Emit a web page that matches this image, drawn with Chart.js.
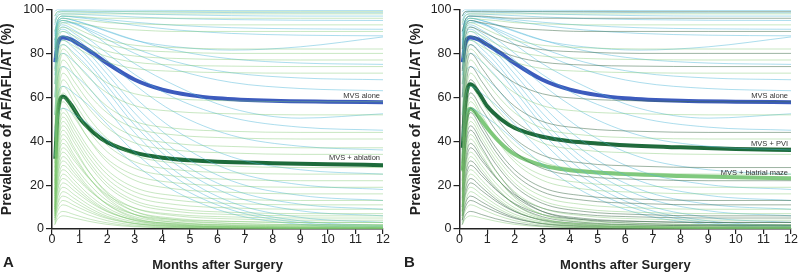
<!DOCTYPE html>
<html>
<head>
<meta charset="utf-8">
<script src="https://cdn.jsdelivr.net/npm/chart.js@4.4.1/dist/chart.umd.min.js"></script>
<style>
  html, body { margin: 0; padding: 0; background: #fff; }
  #wrap { position: relative; width: 800px; height: 274px; overflow: hidden; }
  canvas { position: absolute; top: 0; }
  #chartA { left: 0; }
  #chartB { left: 400px; }
  .panel-letter { position: absolute; top: 253px; font: bold 15px "Liberation Sans", Arial, sans-serif; color: #222; }
</style>
</head>
<body>
<div id="wrap">
  <canvas id="chartA" width="400" height="274"></canvas>
  <canvas id="chartB" width="400" height="274"></canvas>
  <div class="panel-letter" style="left:3px">A</div>
  <div class="panel-letter" style="left:404px">B</div>
</div>
<script>
// ---- data ----
const xTicks = [0, 1, 2, 3, 4, 5, 6, 7, 8, 9, 10, 11, 12];
const yTicks = [0, 20, 40, 60, 80, 100];

// group means (thick lines)
const meanMonths = [0.12, 0.2, 0.4, 0.7, 1, 1.5, 2, 3, 4, 5, 6, 8, 10, 12];
const mvsAlone = [76, 84, 87.3, 86.3, 84, 80, 75.5, 68, 63.5, 61, 59.6, 58.4, 58, 57.8];
const mvsAblation = [32, 52, 60.4, 56.5, 50.5, 44, 39.5, 34.8, 32.5, 31.3, 30.6, 30, 29.5, 29.1];
const mvsPvi = [37, 56, 65.9, 62, 56, 50, 46, 42, 40, 39, 38.2, 37.2, 36.5, 36];
const mvsMaze = [26.6, 45, 54.8, 51, 46, 39, 34, 29, 26.8, 25.7, 25, 24.2, 23.6, 23.1];

// individual patient curves (thin lines)
const thinMonths = [0.1, 0.2, 0.4, 0.8, 1.3, 2, 3, 4.5, 6.5, 9, 12];

const aloneCurves = [
  [99, 100, 100, 100, 100, 99.8, 99.7, 99.6, 99.5, 99.5, 99.5],
  [97, 99, 99.5, 99.5, 99.4, 99.2, 99, 98.8, 98.6, 98.5, 98.5],
  [95, 98, 99, 98.9, 98.7, 98.5, 98, 97.6, 97.2, 97, 97],
  [93, 97, 98, 97.9, 97.6, 97.2, 96.6, 95.9, 95.4, 95.1, 95],
  [90, 95, 97, 96.7, 96.2, 95.4, 94.2, 92.8, 91.7, 91.2, 91],
  [89, 95, 97, 96.5, 95.8, 94.6, 92.8, 90.7, 89.1, 88.3, 88],
  [88, 94, 96, 95, 93, 90, 86, 83, 81.5, 83, 87.5],
  [86, 94, 96, 95, 93.3, 90.3, 86.1, 81.3, 77.5, 75.6, 75],
  [85, 93, 95, 93.7, 91.5, 87.7, 82.3, 76.1, 71.2, 68.8, 68],
  [84, 93, 95, 93.4, 90.8, 86.4, 80, 72.6, 66.8, 64, 63],
  [83, 92, 94, 93.8, 90.3, 84.1, 75.3, 65.2, 55, 50.5, 52.5],
  [82, 91, 93, 90.6, 86.8, 80, 70.4, 59.4, 50.8, 46.4, 45],
  [80, 90, 92, 89.2, 84.7, 76.9, 65.7, 52.8, 42.7, 37.7, 36],
  [78, 89, 91, 87.7, 82.4, 73.2, 60, 44.8, 32.9, 27, 25],
  [76, 88, 90, 86.4, 80.6, 70.6, 56.2, 39.6, 26.6, 20.2, 18],
  [73, 85, 88, 84.3, 78.3, 67.8, 52.8, 35.5, 22, 15.3, 13],
  [70, 83, 86, 82.2, 76, 65.2, 49.8, 32.1, 18.2, 11.3, 9],
  [66, 80, 84, 80.1, 73.9, 62.9, 47.3, 29.4, 15.4, 8.3, 6],
  [60, 76, 80, 76.2, 70, 59.2, 43.8, 26.1, 12.2, 5.3, 3],
  [52, 69, 74, 70.4, 64.6, 54.4, 39.9, 23.3, 10.2, 3.7, 1.5],
  [42, 60, 65, 61.8, 56.7, 47.7, 34.9, 20.2, 8.7, 2.9, 1],
  [33, 50, 55, 52.3, 47.9, 40.3, 29.4, 16.9, 7, 2.1, 0.5]
];

const pviCurves = [
  [97, 99, 99, 99, 99, 99, 99, 99, 99, 99, 99],
  [90, 95, 97, 97, 96.5, 96, 96, 96, 96, 96, 96],
  [82, 91, 95, 94, 93, 91.5, 90.7, 90, 90, 90, 90],
  [72, 86, 92, 90, 87, 84, 81.7, 80.6, 80, 80, 80],
  [60, 80, 88, 85.5, 82, 78.6, 76, 74.7, 74.2, 74, 74],
  [46, 72, 84, 79.3, 73, 66.6, 61.6, 59.3, 58.4, 58, 58],
  [36, 65, 80, 73.5, 64.9, 55.9, 49, 45.8, 44.5, 44, 44],
  [30, 59, 74, 67.3, 58.5, 49.2, 42.2, 38.9, 37.6, 37, 37],
  [26, 53, 68, 60.8, 51.2, 41.2, 33.6, 30, 28.6, 28, 28],
  [22, 48, 62, 54.8, 45.2, 35.2, 27.6, 24, 22.6, 22, 22],
  [18, 42, 55, 47.4, 37.4, 26.9, 18.9, 15.1, 13.6, 13, 13],
  [17, 40, 53, 45.4, 35.4, 24.9, 16.9, 13.1, 11.6, 11, 11],
  [14, 36, 47, 39.6, 29.8, 19.5, 11.7, 8, 6.6, 6, 6],
  [13, 34, 45, 37.3, 26.9, 16.2, 8, 4.2, 2.6, 2, 2],
  [10, 29, 39, 32.5, 23.9, 14.9, 8, 4.8, 3.5, 3, 3],
  [10, 27, 37, 31.2, 23.6, 15.6, 9.5, 6.6, 5.5, 5, 5],
  [8, 23, 31, 25.7, 18.6, 11.2, 5.6, 3, 1.9, 1.5, 1.5],
  [8, 21, 29, 24.3, 18.1, 11.6, 6.6, 4.3, 3.4, 3, 3],
  [6, 17, 23, 19, 13.7, 8.1, 3.9, 1.9, 1.1, 0.8, 0.8],
  [6, 15, 21, 17.5, 12.8, 7.9, 4.2, 2.5, 1.8, 1.5, 1.5],
  [4, 11, 15, 12.4, 8.9, 5.2, 2.4, 1.1, 0.6, 0.4, 0.4],
  [4, 9.5, 13, 10.8, 7.9, 4.8, 2.5, 1.4, 1, 0.8, 0.8],
  [2, 6, 8, 6.6, 4.7, 2.8, 1.3, 0.6, 0.3, 0.2, 0.2]
];

const mazeCurves = [
  [94, 97, 98, 98, 98, 98, 98, 98, 98, 98, 98],
  [86, 93, 96, 95.5, 95, 94, 93.5, 93, 93, 93, 93],
  [78, 89, 94, 92, 89, 86, 83.7, 82.6, 82, 82, 82],
  [66, 83, 90, 88, 84.5, 81, 78.8, 77.7, 77.2, 77, 77],
  [52, 76, 86, 83.3, 79.7, 76, 73.1, 71.8, 71.2, 71, 71],
  [40, 68, 82, 76.6, 69.4, 62, 56.2, 53.5, 52.5, 52, 52],
  [33, 62, 77, 70.5, 61.9, 52.9, 46, 42.8, 41.5, 41, 41],
  [28, 56, 71, 64.3, 55.5, 46.2, 39.2, 35.9, 34.6, 34, 34],
  [24, 51, 65, 57.8, 48.2, 38.2, 30.6, 27, 25.6, 25, 25],
  [21, 46, 60, 52.1, 41.5, 30.5, 22.2, 18.2, 16.7, 16, 16],
  [20, 45, 58, 51, 41.6, 31.9, 24.5, 21, 19.6, 19, 19],
  [16, 39, 51, 43.4, 33.4, 22.9, 14.9, 11.1, 9.6, 9, 9],
  [15, 37, 49, 41.4, 31.4, 20.9, 12.9, 9.1, 7.6, 7, 7],
  [12, 32, 43, 36, 26.6, 16.9, 9.5, 6, 4.6, 4, 4],
  [11, 30, 41, 33.8, 24.2, 14.2, 6.6, 3, 1.6, 1, 1],
  [9, 26, 35, 29, 21.1, 12.9, 6.6, 3.7, 2.5, 2, 2],
  [9, 24, 33, 27.2, 19.4, 11.2, 5, 2.1, 1, 0.5, 0.5],
  [7, 20, 27, 22.3, 16.1, 9.6, 4.6, 2.3, 1.4, 1, 1],
  [7, 18, 25, 20.6, 14.7, 8.6, 3.9, 1.7, 0.9, 0.5, 0.5],
  [5, 14, 19, 15.7, 11.3, 6.7, 3.2, 1.5, 0.9, 0.6, 0.6],
  [5, 12, 17, 14, 10, 5.8, 2.6, 1.1, 0.6, 0.3, 0.3],
  [3, 8, 11, 9.1, 6.5, 3.8, 1.8, 0.8, 0.5, 0.3, 0.3],
  [2, 4.5, 6, 5, 3.6, 2.1, 1, 0.5, 0.3, 0.2, 0.2]
];

// in panel A both ablation types are pooled
const ablationCurves = [...pviCurves, ...mazeCurves];

// ---- helpers ----
const FONT = '"Liberation Sans", Arial, Helvetica, sans-serif';
const BLUE = '#3c5bbd';
const DARK_GREEN = '#1d6b3b';
const LIGHT_GREEN = '#80c97e';

const toPoints = (xs, ys) => xs.map((x, i) => ({ x: x, y: ys[i] }));

const thinSet = (curves, color) => curves.map(c => ({
  data: toPoints(thinMonths, c),
  borderColor: color,
  borderWidth: 1,
  pointRadius: 0,
  cubicInterpolationMode: 'monotone',
  fill: false
}));

const meanSet = (values, color) => ({
  data: toPoints(meanMonths, values),
  borderColor: color,
  borderWidth: 4,
  pointRadius: 0,
  cubicInterpolationMode: 'monotone',
  borderCapStyle: 'butt',
  fill: false
});

const endLabels = {
  id: 'endLabels',
  afterDatasetsDraw(chart, args, opts) {
    const { ctx, chartArea, scales } = chart;
    ctx.save();
    ctx.font = '7.5px ' + FONT;
    ctx.fillStyle = '#333';
    ctx.textAlign = 'right';
    ctx.textBaseline = 'middle';
    opts.items.forEach(it => {
      const y = scales.y.getPixelForValue(it.values[it.values.length - 1]);
      ctx.fillText(it.text, chartArea.right - 3, y + it.dy);
    });
    ctx.restore();
  }
};

function makePanel(id, datasets, labels, yWidth, titlePad, rightPad) {
  return new Chart(document.getElementById(id), {
    type: 'line',
    data: { datasets: datasets },
    plugins: [endLabels],
    options: {
      responsive: false,
      animation: false,
      events: [],
      layout: { padding: { top: 7, right: rightPad, bottom: 0, left: 0 } },
      plugins: {
        legend: { display: false },
        tooltip: { enabled: false },
        endLabels: { items: labels }
      },
      scales: {
        x: {
          type: 'linear',
          min: 0,
          max: 12,
          afterBuildTicks: s => { s.ticks = xTicks.map(v => ({ value: v })); },
          afterFit: s => { s.height = 45; },
          border: { color: '#222', width: 1.5 },
          grid: { drawOnChartArea: false, tickLength: 5, color: '#222', lineWidth: 1.2 },
          ticks: { color: '#222', font: { family: FONT, size: 12.5, lineHeight: 1 }, padding: -1, maxRotation: 0 },
          title: {
            display: true,
            text: 'Months after Surgery',
            color: '#222',
            font: { family: FONT, size: 13, weight: 'bold', lineHeight: 1 },
            padding: { top: 0, bottom: 2 }
          }
        },
        y: {
          min: 0,
          max: 100,
          afterBuildTicks: s => { s.ticks = yTicks.map(v => ({ value: v })); },
          afterFit: s => { s.width = yWidth; },
          border: { color: '#222', width: 1.5 },
          grid: { drawOnChartArea: false, tickLength: 6, color: '#222', lineWidth: 1.2 },
          ticks: { color: '#222', font: { family: FONT, size: 12.5 }, padding: 2 },
          title: {
            display: true,
            text: 'Prevalence of AF/AFL/AT (%)',
            color: '#222',
            font: { family: FONT, size: 14, weight: 'bold', lineHeight: 1 },
            padding: { top: titlePad, bottom: 0 }
          }
        }
      }
    }
  });
}

// ---- panel A ----
makePanel('chartA', [
  ...thinSet(ablationCurves, 'rgba(125, 198, 110, 0.42)'),
  ...thinSet(aloneCurves, 'rgba(70, 180, 215, 0.45)'),
  meanSet(mvsAlone, BLUE),
  meanSet(mvsAblation, DARK_GREEN)
], [
  { text: 'MVS alone', values: mvsAlone, dy: -6 },
  { text: 'MVS + ablation', values: mvsAblation, dy: -7.5 }
], 52, 0.5, 17);

// ---- panel B ----
makePanel('chartB', [
  ...thinSet(mazeCurves, 'rgba(125, 198, 110, 0.42)'),
  ...thinSet(pviCurves, 'rgba(60, 105, 72, 0.5)'),
  ...thinSet(aloneCurves, 'rgba(70, 180, 215, 0.45)'),
  meanSet(mvsAlone, BLUE),
  meanSet(mvsPvi, DARK_GREEN),
  meanSet(mvsMaze, LIGHT_GREEN)
], [
  { text: 'MVS alone', values: mvsAlone, dy: -6 },
  { text: 'MVS + PVI', values: mvsPvi, dy: -6 },
  { text: 'MVS + biatrial maze', values: mvsMaze, dy: -5 }
], 59.5, 9, 9);
</script>
</body>
</html>
